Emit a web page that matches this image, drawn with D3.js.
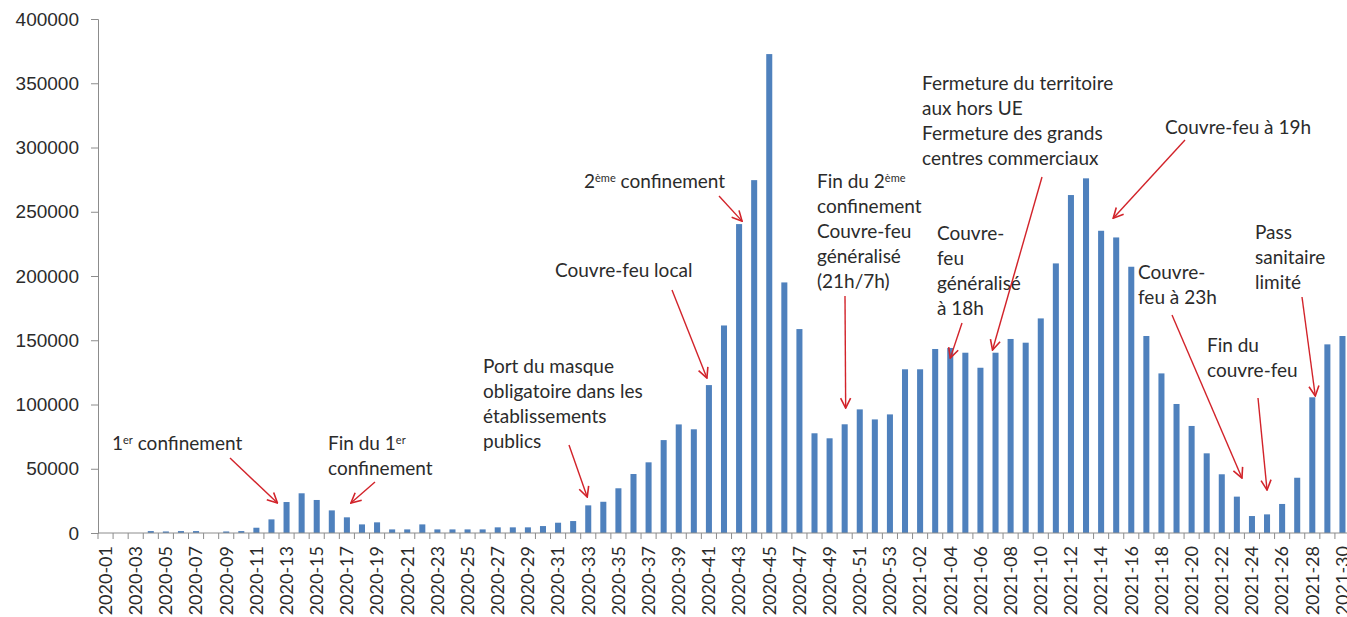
<!DOCTYPE html>
<html>
<head>
<meta charset="utf-8">
<script src="https://cdn.jsdelivr.net/npm/d3@7"></script>
<style>
  body { margin: 0; background: #fff; }
  svg { display: block; font-family: Lato, "Open Sans", sans-serif; }
  .lbl { font-size: 19px; fill: #2b2b2b; }
  .xl { font-size: 18px; }
</style>
</head>
<body>
<svg width="1347" height="617"></svg>
<script>
// weeks 2020-01 .. 2020-53, 2021-01 .. 2021-30
const WEEKS_2020 = d3.range(1, 54).map(w => '2020-' + String(w).padStart(2, '0'));
const WEEKS_2021 = d3.range(1, 31).map(w => '2021-' + String(w).padStart(2, '0'));
const WEEKS = WEEKS_2020.concat(WEEKS_2021);

const VALUES_2020 = [
    0, 0, 0, 1500, 1200, 1500, 1500, 0, 1200, 1500,
    4100, 10600, 24100, 30900, 25700, 17600, 12200, 6700, 8300, 2800,
    2800, 6700, 2800, 2800, 2800, 2800, 4400, 4400, 4400, 5400,
    8000, 9300, 21500, 24300, 34800, 45900, 55000, 72300, 84500, 80700,
    115100, 161500, 240400, 274600, 372700, 195000, 158700, 77600, 73700, 84600,
    96200, 88400, 92300
];
const VALUES_2021 = [
    127400, 127400, 143200, 144000, 140300, 128600, 140300, 151000, 148100, 167000,
    209800, 263000, 276000, 235200, 230000, 207200, 153300, 124200, 100400, 83300,
    62000, 45700, 28300, 13200, 14500, 22600, 43000, 105600, 146800, 153300
];
const VALUES = VALUES_2020.concat(VALUES_2021);

const Y_TICKS = [0, 50000, 100000, 150000, 200000, 250000, 300000, 350000, 400000];

// annotations: text lines (|sup| for superscript), text position, arrow start, arrow target (week, value, small x shift)
const NOTES = [
    { lines: ['1|er| confinement'], x: 112, y: 443, from: [230, 458], week: '2020-12', val: 23300, dx: 6 },
    { lines: ['Fin du 1|er|', 'confinement'], x: 328, y: 443, from: [375, 482], week: '2020-17', val: 23300, dx: 4 },
    { lines: ['Port du masque', 'obligatoire dans les', 'établissements', 'publics'], x: 483, y: 366, from: [569, 445], week: '2020-33', val: 28000, dx: -1 },
    { lines: ['Couvre-feu local'], x: 555, y: 270, from: [672, 290], week: '2020-41', val: 120600, dx: -2 },
    { lines: ['2|ème| confinement'], x: 584, y: 181, from: [719, 196], week: '2020-43', val: 242700, dx: 3 },
    { lines: ['Fin du 2|ème|', 'confinement', 'Couvre-feu', 'généralisé', '(21h/7h)'], x: 817, y: 181, from: [845, 296], week: '2020-50', val: 97200, dx: 1 },
    { lines: ['Couvre-', 'feu', 'généralisé', 'à 18h'], x: 937, y: 233, from: [962, 323], week: '2021-04', val: 136100, dx: 0 },
    { lines: ['Fermeture du territoire', 'aux hors UE', 'Fermeture des grands', 'centres commerciaux'], x: 922, y: 83, from: [1042, 177], week: '2021-07', val: 142400, dx: -3 },
    { lines: ['Couvre-feu à 19h'], x: 1165, y: 127, from: [1185, 140], week: '2021-15', val: 245000, dx: -3 },
    { lines: ['Couvre-', 'feu à 23h'], x: 1138, y: 272, from: [1172, 315], week: '2021-24', val: 42800, dx: -10 },
    { lines: ['Fin du', 'couvre-feu'], x: 1207, y: 345, from: [1258, 398], week: '2021-25', val: 33400, dx: 0 },
    { lines: ['Pass', 'sanitaire', 'limité'], x: 1255, y: 232, from: [1302, 297], week: '2021-28', val: 106600, dx: 3 }
];

const svg = d3.select('svg');
const RED = '#d2232a';

const x = d3.scaleBand().domain(WEEKS).range([98, 1350]).paddingInner(0.6).paddingOuter(0.3);
const y = d3.scaleLinear().domain([0, 400000]).range([533, 19]);

// y axis
const yAxis = svg.append('g')
    .attr('transform', 'translate(98,0)')
    .call(d3.axisLeft(y).tickValues(Y_TICKS).tickSize(7).tickPadding(12).tickFormat(d => d));
yAxis.select('.domain').attr('stroke', '#8c8c8c');
yAxis.selectAll('.tick line').attr('stroke', '#8c8c8c');
yAxis.selectAll('text').attr('class', 'lbl').attr('font-family', null).attr('font-size', null);

// bars
svg.append('g').selectAll('rect')
    .data(WEEKS)
    .join('rect')
    .attr('x', d => x(d))
    .attr('y', (d, i) => y(VALUES[i]))
    .attr('width', x.bandwidth())
    .attr('height', (d, i) => y(0) - y(VALUES[i]))
    .attr('fill', '#4f81bd');

// x axis: line, ticks between bars, every other label
const gap = (x.step() - x.bandwidth()) / 2;
const xg = svg.append('g');
xg.append('line')
    .attr('x1', 98).attr('x2', 1350)
    .attr('y1', y(0)).attr('y2', y(0))
    .attr('stroke', '#8c8c8c');
xg.selectAll('.tk')
    .data(WEEKS)
    .join('line')
    .attr('class', 'tk')
    .attr('x1', d => x(d) - gap).attr('x2', d => x(d) - gap)
    .attr('y1', y(0)).attr('y2', y(0) + 6)
    .attr('stroke', '#8c8c8c');
xg.selectAll('.xl')
    .data(WEEKS.filter((d, i) => i % 2 === 0))
    .join('text')
    .attr('class', 'lbl xl')
    .attr('transform', d => `translate(${x(d) + x.bandwidth() / 2},${y(0) + 13}) rotate(-90)`)
    .attr('text-anchor', 'end')
    .attr('dy', '0.35em')
    .text(d => d);

// arrow head
svg.append('defs').append('marker')
    .attr('id', 'arr')
    .attr('viewBox', '0 0 12 12')
    .attr('refX', 11).attr('refY', 6)
    .attr('markerWidth', 12).attr('markerHeight', 12)
    .attr('markerUnits', 'userSpaceOnUse')
    .attr('orient', 'auto')
    .append('path')
    .attr('d', 'M1,1 L11,6 L1,11')
    .attr('fill', 'none')
    .attr('stroke', RED)
    .attr('stroke-width', 1.6);

const notes = svg.append('g');
NOTES.forEach(n => {
    const t = notes.append('text').attr('class', 'lbl').attr('x', n.x).attr('y', n.y).attr('dy', '0.35em');
    n.lines.forEach((line, li) => {
        const parts = line.split('|');
        parts.forEach((p, pi) => {
            const ts = t.append('tspan').text(p);
            if (pi === 0) ts.attr('x', n.x).attr('dy', li === 0 ? null : 25);
            if (pi === 1) ts.attr('font-size', 11).attr('baseline-shift', '55%');
        });
    });
    const tx = x(n.week) + x.bandwidth() / 2 + n.dx;
    const ty = y(n.val);
    notes.append('line')
        .attr('x1', n.from[0]).attr('y1', n.from[1])
        .attr('x2', tx).attr('y2', ty)
        .attr('stroke', RED)
        .attr('stroke-width', 1.4)
        .attr('marker-end', 'url(#arr)');
});
</script>
</body>
</html>
